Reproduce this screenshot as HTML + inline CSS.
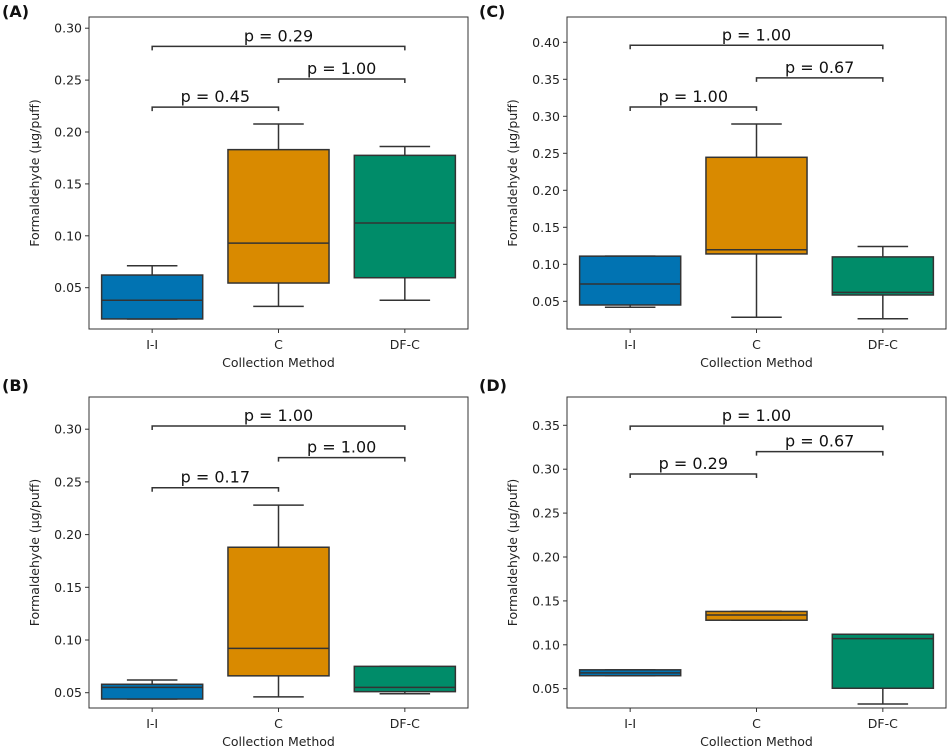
<!DOCTYPE html>
<html><head><meta charset="utf-8">
<style>
html,body{margin:0;padding:0;background:#fff;}
svg{display:block;font-family:"DejaVu Sans","Liberation Sans",sans-serif;}
</style></head>
<body>
<svg id="fig" width="948" height="748" viewBox="0 0 948 748" xmlns="http://www.w3.org/2000/svg"></svg>
<script>
const categories = ["I-I","C","DF-C"];
const colors = ["#0173b2","#d98a00","#008c69"];
// [min, q1, median, q3, max] per category
const statsA = [[0.0199,0.0199,0.0379,0.0622,0.0712],[0.032,0.0545,0.093,0.183,0.2077],[0.0379,0.0596,0.1123,0.1775,0.186]];
const statsB = [[0.044,0.044,0.055,0.058,0.062],[0.046,0.066,0.092,0.188,0.228],[0.049,0.051,0.055,0.075,0.075]];
const statsC = [[0.042,0.045,0.0734,0.111,0.111],[0.0284,0.114,0.1197,0.2446,0.2896],[0.0265,0.0585,0.062,0.11,0.124]];
const statsD = [[0.0648,0.0648,0.068,0.0715,0.0715],[0.128,0.128,0.134,0.138,0.138],[0.0326,0.0505,0.107,0.112,0.112]];
const ticksA = [0.05,0.10,0.15,0.20,0.25,0.30];
const ticksB = [0.05,0.10,0.15,0.20,0.25,0.30];
const ticksC = [0.05,0.10,0.15,0.20,0.25,0.30,0.35,0.40];
const ticksD = [0.05,0.10,0.15,0.20,0.25,0.30,0.35];
// brackets: [fromIdx, toIdx, height, label]
const bracketsA = [[0,1,0.224,"p = 0.45"],[1,2,0.251,"p = 1.00"],[0,2,0.2825,"p = 0.29"]];
const bracketsB = [[0,1,0.2445,"p = 0.17"],[1,2,0.273,"p = 1.00"],[0,2,0.303,"p = 1.00"]];
const bracketsC = [[0,1,0.3126,"p = 1.00"],[1,2,0.352,"p = 0.67"],[0,2,0.396,"p = 1.00"]];
const bracketsD = [[0,1,0.2945,"p = 0.29"],[1,2,0.32,"p = 0.67"],[0,2,0.349,"p = 1.00"]];

const NS="http://www.w3.org/2000/svg";
const svg=document.getElementById('fig');
function mk(tag,attrs,parent){const e=document.createElementNS(NS,tag);for(const k in attrs)e.setAttribute(k,attrs[k]);(parent||svg).appendChild(e);return e;}

const panels=[
 {id:"a",label:"(A)",lx:2,ly:17,x0:89,x1:468,y0:17,y1:329,v0:0.05,p0:287.7,pp:51.9,stats:statsA,ticks:ticksA,br:bracketsA},
 {id:"b",label:"(B)",lx:2,ly:391,x0:89,x1:468,y0:397,y1:708,v0:0.05,p0:692.7,pp:52.7,stats:statsB,ticks:ticksB,br:bracketsB},
 {id:"c",label:"(C)",lx:479,ly:17,x0:567,x1:946,y0:17,y1:329,v0:0.05,p0:301.3,pp:37,stats:statsC,ticks:ticksC,br:bracketsC},
 {id:"d",label:"(D)",lx:479,ly:391,x0:567,x1:946,y0:397,y1:708,v0:0.05,p0:688.7,pp:43.9,stats:statsD,ticks:ticksD,br:bracketsD}
];

panels.forEach(P=>{
  const g=mk('g',{});
  
  
  const y=v=>P.p0-(v-P.v0)/0.05*P.pp;
  const step=(P.x1-P.x0)/3;
  const x=i=>P.x0+step*(i+0.5);
  const hw=step*0.4, cw=step*0.2;
  const t=mk('text',{x:P.lx,y:P.ly,'font-size':16,'font-weight':'bold',fill:'#111'},g);t.textContent=P.label;
  
  P.stats.forEach((s,i)=>{
    const bg=mk('g',{stroke:'#333','stroke-width':1.5},g);
    
    
    mk('line',{x1:x(i),x2:x(i),y1:y(s[0]),y2:y(s[1])},bg);
    mk('line',{x1:x(i),x2:x(i),y1:y(s[3]),y2:y(s[4])},bg);
    mk('line',{x1:x(i)-cw,x2:x(i)+cw,y1:y(s[0]),y2:y(s[0])},bg);
    mk('line',{x1:x(i)-cw,x2:x(i)+cw,y1:y(s[4]),y2:y(s[4])},bg);
    mk('rect',{x:x(i)-hw,y:y(s[3]),width:2*hw,height:Math.max(0.5,y(s[1])-y(s[3])),fill:colors[i]},bg);
    mk('line',{x1:x(i)-hw,x2:x(i)+hw,y1:y(s[2]),y2:y(s[2])},bg);
  });
  const fr=mk('rect',{x:P.x0,y:P.y0,width:P.x1-P.x0,height:P.y1-P.y0,fill:'none',stroke:'#333','stroke-width':1},g);
  
  P.ticks.forEach(v=>{
    mk('line',{x1:P.x0-4,x2:P.x0,y1:y(v),y2:y(v),stroke:'#333'},g);
    const tt=mk('text',{x:P.x0-7,y:y(v)+4.5,'font-size':12.5,'text-anchor':'end',fill:'#222'},g);
    tt.textContent=v.toFixed(2);
    
  });
  categories.forEach((c,i)=>{
    mk('line',{x1:x(i),x2:x(i),y1:P.y1,y2:P.y1+4,stroke:'#333'},g);
    const tt=mk('text',{x:x(i),y:P.y1+20,'font-size':12.5,'text-anchor':'middle',fill:'#222'},g);
    tt.textContent=c;
    
  });
  const xt=mk('text',{x:(P.x0+P.x1)/2,y:P.y1+38,'font-size':12.5,'text-anchor':'middle',fill:'#222'},g);
  xt.textContent="Collection Method";
  
  const cy=(P.y0+P.y1)/2;
  const yt=mk('text',{x:P.x0-50,y:cy,'font-size':12.5,'text-anchor':'middle',fill:'#222',transform:`rotate(-90 ${P.x0-50} ${cy})`},g);
  yt.textContent="Formaldehyde (µg/puff)";
  
  P.br.forEach(b=>{
    const by=y(b[2]);
    const pg=mk('g',{},g);
    
    
    mk('polyline',{points:`${x(b[0])},${by+4} ${x(b[0])},${by} ${x(b[1])},${by} ${x(b[1])},${by+4}`,fill:'none',stroke:'#333','stroke-width':1.5},pg);
    const pt=mk('text',{x:(x(b[0])+x(b[1]))/2,y:by-5,'font-size':16,'text-anchor':'middle',fill:'#111'},pg);
    pt.textContent=b[3];
  });
});
</script>
</body></html>
